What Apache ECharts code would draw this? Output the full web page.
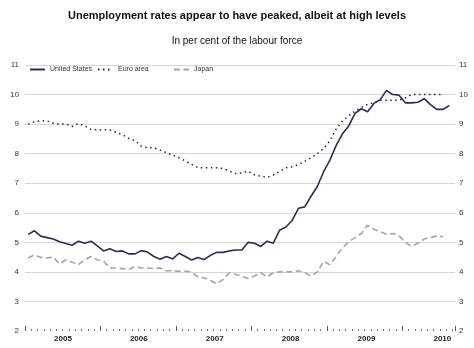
<!DOCTYPE html>
<html><head><meta charset="utf-8">
<script src="https://cdn.jsdelivr.net/npm/echarts@6/dist/echarts.min.js"></script>
<style>html,body{margin:0;padding:0;background:#fff}#c{width:474px;height:348px}</style>
</head><body><div id="c"></div>
<script>
// Monthly data, January 2005 onward
const years = ['2005', '2006', '2007', '2008', '2009', '2010'];
const seriesNames = ['United States', 'Euro area', 'Japan'];

const usRate = [
  5.27, 5.39, 5.21, 5.16, 5.11, 5.02, 4.96, 4.90, 5.04, 4.97, 5.04, 4.88,
  4.71, 4.78, 4.69, 4.71, 4.61, 4.61, 4.72, 4.67, 4.52, 4.43, 4.52, 4.44,
  4.63, 4.52, 4.40, 4.49, 4.42, 4.56, 4.66, 4.66, 4.71, 4.74, 4.74, 5.00,
  4.97, 4.86, 5.04, 4.97, 5.41, 5.52, 5.74, 6.15, 6.20, 6.56, 6.89, 7.39,
  7.78, 8.28, 8.67, 8.94, 9.36, 9.52, 9.42, 9.70, 9.83, 10.14, 10.00, 9.98,
  9.72, 9.72, 9.74, 9.86, 9.66, 9.50, 9.50, 9.63
];
const euroRate = [
  9.00, 9.08, 9.11, 9.11, 9.03, 9.00, 9.00, 8.92, 9.02, 8.94, 8.82, 8.81,
  8.81, 8.80, 8.72, 8.64, 8.52, 8.44, 8.25, 8.20, 8.20, 8.12, 8.03, 7.95,
  7.86, 7.75, 7.64, 7.53, 7.52, 7.52, 7.52, 7.50, 7.41, 7.33, 7.35, 7.41,
  7.28, 7.24, 7.20, 7.28, 7.39, 7.52, 7.56, 7.63, 7.74, 7.86, 8.00, 8.17,
  8.44, 8.83, 9.11, 9.28, 9.44, 9.56, 9.67, 9.72, 9.81, 9.81, 9.81, 9.81,
  9.89, 10.00, 10.00, 10.00, 10.00, 10.00, 10.00
];
const japanRate = [
  4.47, 4.58, 4.49, 4.47, 4.50, 4.27, 4.41, 4.33, 4.24, 4.41, 4.52, 4.41,
  4.36, 4.13, 4.13, 4.11, 4.08, 4.19, 4.13, 4.13, 4.11, 4.13, 4.04, 4.04,
  4.02, 4.02, 4.00, 3.83, 3.80, 3.71, 3.60, 3.74, 3.97, 3.92, 3.85, 3.78,
  3.86, 3.97, 3.83, 3.97, 4.00, 4.00, 4.00, 4.04, 3.97, 3.86, 4.00, 4.36,
  4.24, 4.52, 4.82, 5.02, 5.16, 5.30, 5.58, 5.44, 5.36, 5.27, 5.30, 5.22,
  5.00, 4.86, 4.97, 5.11, 5.16, 5.22, 5.19
];

const FONT = '"Liberation Sans", Arial, sans-serif';
const monthsOnAxis = 68.4;
// points sit in the middle of their month
const toPoints = arr => arr.map((v, i) => [i + 0.5, v]);
// boundary categories for centred year labels
const boundaries = [];
for (let i = 0; i <= 68; i++) boundaries.push(i % 12 === 6 ? years[(i - 6) / 12] : '');

const gridColors = ['rgba(0,0,0,0)'].concat(new Array(9).fill('#d6d6d6'));

const chart = echarts.init(document.getElementById('c'), null, { renderer: 'canvas' });
const legendBase = {
  orient: 'horizontal', top: 66, itemWidth: 15, itemHeight: 8, itemGap: 0,
  itemStyle: { opacity: 0, borderWidth: 0 },
  textStyle: { fontFamily: FONT, fontSize: 7, color: '#333', padding: [0, 0, 0, 0] },
  padding: 0
};
chart.setOption({
  animation: false,
  backgroundColor: '#ffffff',
  title: {
    text: 'Unemployment rates appear to have peaked, albeit at high levels',
    subtext: 'In per cent of the labour force',
    left: 'center', top: 10, itemGap: 13, padding: 0,
    textStyle: { fontFamily: FONT, fontSize: 11, fontWeight: 'bold', color: '#111', lineHeight: 12 },
    subtextStyle: { fontFamily: FONT, fontSize: 10, color: '#111', lineHeight: 12 }
  },
  legend: [
    Object.assign({}, legendBase, { left: 29, data: [seriesNames[0]] }),
    Object.assign({}, legendBase, { left: 97, data: [seriesNames[1]] }),
    Object.assign({}, legendBase, { left: 173, data: [seriesNames[2]] })
  ],
  grid: { left: 25, right: 19, top: 65, bottom: 17, containLabel: false },
  xAxis: [
    {
      type: 'value', min: 0, max: monthsOnAxis, interval: 12,
      axisLine: { show: false },
      axisTick: { show: true, inside: true, length: 5, lineStyle: { color: '#555', width: 1 } },
      minorTick: { show: true, splitNumber: 12, length: 2, lineStyle: { color: '#777', width: 1 } },
      axisLabel: { show: false },
      splitLine: { show: false }
    },
    {
      type: 'category', data: boundaries, boundaryGap: false, position: 'bottom',
      axisLine: { show: false }, axisTick: { show: false }, splitLine: { show: false },
      axisLabel: {
        interval: 0, margin: 4, fontFamily: FONT, fontSize: 8, fontWeight: 'bold', color: '#222'
      }
    }
  ],
  yAxis: [
    {
      type: 'value', min: 2, max: 11, interval: 1, position: 'left',
      axisLine: { show: false }, axisTick: { show: false },
      axisLabel: { margin: 6, fontFamily: FONT, fontSize: 8, color: '#333' },
      splitLine: { show: true, lineStyle: { color: gridColors, width: 1 } }
    },
    {
      type: 'value', min: 2, max: 11, interval: 1, position: 'right',
      axisLine: { show: false }, axisTick: { show: false },
      axisLabel: { margin: 4, fontFamily: FONT, fontSize: 8, color: '#333' },
      splitLine: { show: false }
    }
  ],
  series: [
    {
      name: seriesNames[0], type: 'line', xAxisIndex: 0, yAxisIndex: 0,
      data: toPoints(usRate), symbol: 'none', showSymbol: false, z: 5,
      lineStyle: { color: '#2b2c5c', width: 1.6, type: 'solid' },
      itemStyle: { color: '#2b2c5c' }
    },
    {
      name: seriesNames[1], type: 'line', xAxisIndex: 0, yAxisIndex: 0,
      data: toPoints(euroRate), symbol: 'none', showSymbol: false, z: 4,
      lineStyle: { color: '#23244e', width: 1.5, type: [1.5, 3.5] },
      itemStyle: { color: '#23244e' }
    },
    {
      name: seriesNames[2], type: 'line', xAxisIndex: 0, yAxisIndex: 0,
      data: toPoints(japanRate), symbol: 'none', showSymbol: false, z: 3,
      lineStyle: { color: '#a3a3ad', width: 1.6, type: [6, 3.5] },
      itemStyle: { color: '#a3a3ad' }
    }
  ]
});
</script>
</body></html>
